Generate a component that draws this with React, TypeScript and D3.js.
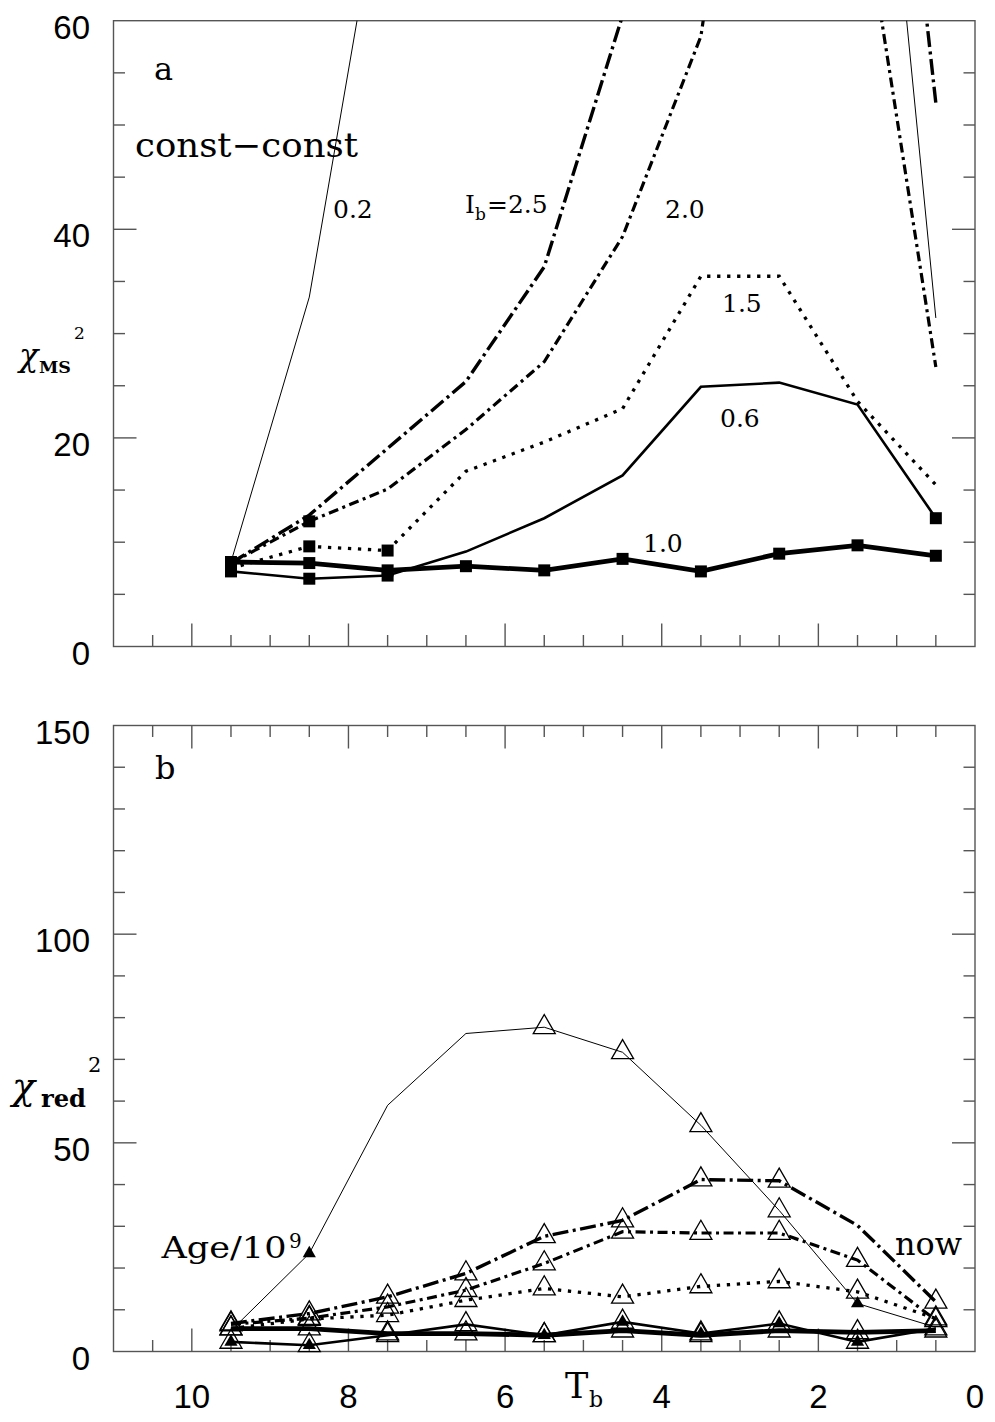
import React from 'react';
import * as d3 from 'd3';

// time bins T_b (Gyr), centres of the 1-Gyr bins
const tb = [9.5, 8.5, 7.5, 6.5, 5.5, 4.5, 3.5, 2.5, 1.5, 0.5];

// panel a : chi^2 of the main sequence fit, one series per I_b
const msI02 = [8.1, 33.5, 77, 130, 160, 170, 165, 150, 108, 31.5];
const msI25 = [8.0, 12.6, 19.0, 25.4, 36.4, 60.5, 95, 130, 120, 52.1];
const msI20 = [8.0, 12.0, 15.1, 20.8, 27.3, 39.3, 58.5, 110, 74.8, 26.8];
const msI15 = [7.5, 9.6, 9.2, 16.8, 19.6, 22.8, 35.5, 35.5, 23.5, 15.5];
const msI06 = [7.2, 6.5, 6.8, 9.1, 12.3, 16.4, 24.9, 25.3, 23.2, 12.3];
const msI10 = [8.1, 8.0, 7.3, 7.7, 7.3, 8.4, 7.2, 8.9, 9.7, 8.7];

// panel b : reduced chi^2
const redI02 = [5.0, 23.5, 59.0, 76.2, 77.7, 71.7, 54.2, 33.8, 11.5, 5.8];
const redI25 = [6.7, 9.1, 13.1, 18.7, 27.6, 31.4, 41.2, 40.9, 30.2, 11.9];
const redI20 = [6.5, 8.0, 10.7, 14.7, 21.1, 28.7, 28.4, 28.4, 21.9, 7.5];
const redI15 = [5.5, 7.8, 8.7, 12.3, 15.1, 13.1, 15.6, 16.8, 14.3, 7.9];
const redI10 = [5.5, 5.5, 4.3, 4.3, 3.9, 5.0, 3.9, 5.0, 4.6, 5.0];
const redI06 = [2.3, 1.5, 3.9, 6.5, 3.9, 7.1, 4.3, 6.7, 2.3, 5.5];

const xTickLabels = [10, 8, 6, 4, 2, 0];
const yTickLabelsA = [0, 20, 40, 60];
const yTickLabelsB = [0, 50, 100, 150];

const all = tb.map((_, i) => i);

const lineStyles: Record<string, { w: number; dash?: string }> = {
  thin: { w: 1 },
  medium: { w: 2.6 },
  thick: { w: 4.8 },
  dot: { w: 3.3, dash: '3.3 6.7' },
  dashdot: { w: 3.2, dash: '10 4.5 3 4.5' },
  longdashdot: { w: 3.4, dash: '16 4.5 3 4.5' },
};

const seriesA = [
  { v: msI02, style: 'thin', squares: [] as number[] },
  { v: msI25, style: 'longdashdot', squares: [] },
  { v: msI20, style: 'dashdot', squares: [1] },
  { v: msI15, style: 'dot', squares: [1, 2] },
  { v: msI06, style: 'medium', squares: [0, 1, 2, 9] },
  { v: msI10, style: 'thick', squares: all },
];

const seriesB = [
  { v: redI02, style: 'thin', open: [4, 5, 6, 7], filled: [1, 8] },
  { v: redI25, style: 'longdashdot', open: [0, 1, 2, 3, 4, 5, 6, 7, 9], filled: [] as number[] },
  { v: redI20, style: 'dashdot', open: all, filled: [] },
  { v: redI15, style: 'dot', open: all, filled: [] },
  { v: redI10, style: 'thick', open: all, filled: [] },
  { v: redI06, style: 'medium', open: all, filled: [0, 1, 4, 5, 6, 7, 8] },
];

const x = d3.scaleLinear().domain([11, 0]).range([113.5, 975]);
const yA = d3.scaleLinear().domain([0, 60]).range([646.5, 20.7]);
const yB = d3.scaleLinear().domain([0, 150]).range([1351.5, 725.5]);

const frameColor = '#555';
const serif = '"DejaVu Serif", serif';
const sans = '"Liberation Sans", Arial, sans-serif';

const square = d3.symbol(d3.symbolSquare, 144)()!;
const openTri = d3.symbol(d3.symbolTriangle, 210)()!;
const fillTri = d3.symbol(d3.symbolTriangle, 75)()!;

function Frame({ y, minor, major, topTicks }: {
  y: d3.ScaleLinear<number, number>; minor: number; major: number; topTicks: boolean;
}) {
  const [y0, y1] = y.range();
  const [x0, x1] = x.range();
  const xt = d3.range(0.5, 11, 0.5);
  const [d0, d1] = y.domain();
  const yt = d3.range(d0 + minor, d1, minor);
  const isMajX = (t: number) => t % 2 === 0;
  const isMajY = (t: number) => t % major === 0;
  return (
    <g stroke={frameColor} strokeWidth={1.4} fill="none">
      <rect x={x0} y={y1} width={x1 - x0} height={y0 - y1} />
      {xt.map(t => {
        const len = isMajX(t) ? 23 : 11.5;
        return (
          <g key={'x' + t}>
            <line x1={x(t)} x2={x(t)} y1={y0} y2={y0 - len} />
            {topTicks && <line x1={x(t)} x2={x(t)} y1={y1} y2={y1 + len} />}
          </g>
        );
      })}
      {yt.map(t => {
        const len = isMajY(t) ? 23 : 11.5;
        return (
          <g key={'y' + t}>
            <line x1={x0} x2={x0 + len} y1={y(t)} y2={y(t)} />
            <line x1={x1} x2={x1 - len} y1={y(t)} y2={y(t)} />
          </g>
        );
      })}
    </g>
  );
}

function SeriesLine({ v, style, y, clip }: {
  v: number[]; style: string; y: d3.ScaleLinear<number, number>; clip?: string;
}) {
  const s = lineStyles[style];
  const line = d3.line<number>().x((_, i) => x(tb[i])).y(d => y(d));
  return (
    <path d={line(v)!} fill="none" stroke="#000" strokeWidth={s.w}
      strokeDasharray={s.dash} strokeLinejoin="miter" clipPath={clip} />
  );
}

export default function App() {
  return (
    <div style={{ position: 'absolute', left: 0, top: 0 }}>
      <svg width={995} height={1422} style={{ display: 'block', background: '#fff' }}>
        <defs>
          <clipPath id="clipA">
            <rect x={x(11)} y={yA(60)} width={x(0) - x(11)} height={yA(0) - yA(60)} />
          </clipPath>
          <clipPath id="clipB">
            <rect x={x(11)} y={yB(150)} width={x(0) - x(11)} height={yB(0) - yB(150)} />
          </clipPath>
        </defs>

        {/* panel a */}
        <Frame y={yA} minor={5} major={20} topTicks={false} />
        {seriesA.map((s, k) => (
          <SeriesLine key={k} v={s.v} style={s.style} y={yA} clip="url(#clipA)" />
        ))}
        {seriesA.map((s, k) => s.squares.map(i => (
          <path key={k + '-' + i} d={square} fill="#000"
            transform={`translate(${x(tb[i])},${yA(s.v[i])})`} />
        )))}

        {/* panel b */}
        <Frame y={yB} minor={10} major={50} topTicks={true} />
        {seriesB.map((s, k) => (
          <SeriesLine key={k} v={s.v} style={s.style} y={yB} clip="url(#clipB)" />
        ))}
        {seriesB.map((s, k) => s.open.map(i => (
          <path key={'o' + k + '-' + i} d={openTri} fill="none" stroke="#000" strokeWidth={1.3}
            transform={`translate(${x(tb[i])},${yB(s.v[i])})`} />
        )))}
        {seriesB.map((s, k) => s.filled.map(i => (
          <path key={'f' + k + '-' + i} d={fillTri} fill="#000"
            transform={`translate(${x(tb[i])},${yB(s.v[i])})`} />
        )))}

        {/* tick labels */}
        <g fontFamily={sans} fontSize={33} fill="#000" textAnchor="end">
          {yTickLabelsA.map(t => (
            <text key={'a' + t} x={90} y={yA(t) + 18}>{t}</text>
          ))}
          {yTickLabelsB.map(t => (
            <text key={'b' + t} x={90} y={yB(t) + 18}>{t}</text>
          ))}
        </g>
        <g fontFamily={sans} fontSize={33} fill="#000" textAnchor="middle">
          {xTickLabels.map(t => (
            <text key={'x' + t} x={x(t)} y={1408}>{t}</text>
          ))}
        </g>

        {/* axis titles */}
        <g fontFamily={serif} fill="#000">
          <text x={19} y={366} fontSize={32} fontStyle="italic">χ</text>
          <text x={39} y={373} fontSize={17} fontWeight="bold" textLength={32}
            lengthAdjust="spacingAndGlyphs">MS</text>
          <text x={74} y={339} fontSize={17}>2</text>

          <text x={12} y={1099} fontSize={38} fontStyle="italic">χ</text>
          <text x={41} y={1106.5} fontSize={25} fontWeight="bold" textLength={45}
            lengthAdjust="spacingAndGlyphs">red</text>
          <text x={88} y={1071.5} fontSize={21}>2</text>

          <text x={565} y={1398} fontSize={35}>T</text>
          <text x={589} y={1406.5} fontSize={22}>b</text>
        </g>

        {/* annotations */}
        <g fontFamily={serif} fill="#000">
          <text x={154} y={80} fontSize={32}>a</text>
          <text x={135} y={157} fontSize={34} textLength={223}
            lengthAdjust="spacingAndGlyphs">const−const</text>
          <text x={333} y={218} fontSize={25}>0.2</text>
          <text x={465} y={213} fontSize={25}>I</text>
          <text x={475} y={220} fontSize={17}>b</text>
          <text x={487} y={213} fontSize={25}>=2.5</text>
          <text x={665} y={218} fontSize={25}>2.0</text>
          <text x={722} y={311.5} fontSize={25}>1.5</text>
          <text x={720} y={426.5} fontSize={25}>0.6</text>
          <text x={643} y={551.5} fontSize={25}>1.0</text>

          <text x={155} y={779} fontSize={32}>b</text>
          <text x={161.5} y={1258} fontSize={30} textLength={125}
            lengthAdjust="spacingAndGlyphs">Age/10</text>
          <text x={289} y={1248} fontSize={20}>9</text>
          <text x={895} y={1255} fontSize={31} textLength={67}
            lengthAdjust="spacingAndGlyphs">now</text>
        </g>
      </svg>
    </div>
  );
}
